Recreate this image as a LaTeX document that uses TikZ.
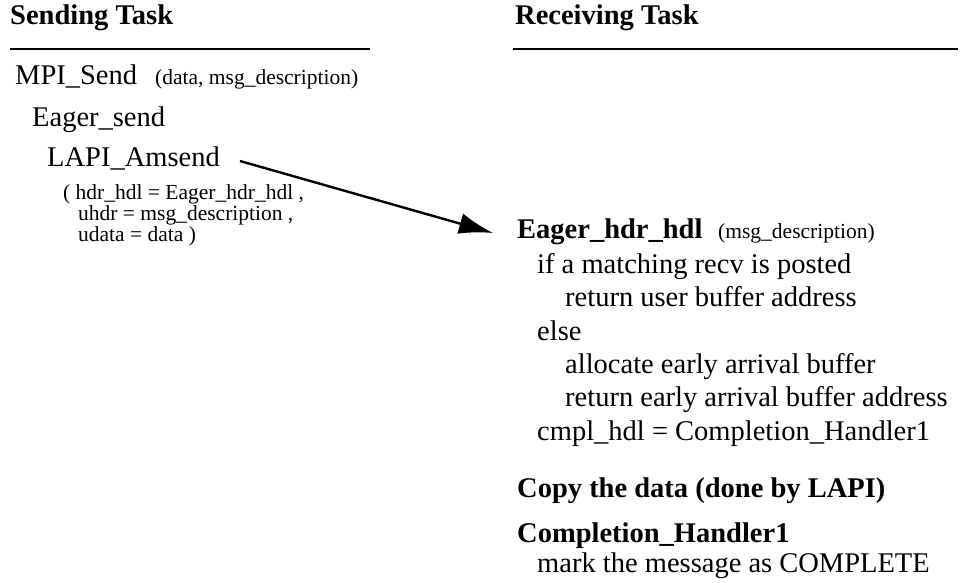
\documentclass[tikz,border=0pt]{standalone}
\usepackage{fontspec}
\setmainfont{Liberation Serif}
\usetikzlibrary{arrows.meta,positioning}
\tikzset{
  txt/.style={anchor=base west, inner sep=0pt, font=\fontsize{28.5}{33}\selectfont},
  hdr/.style={anchor=base west, inner sep=0pt, font=\fontsize{28.5}{33}\selectfont\bfseries},
  arg/.style={anchor=base west, inner sep=0pt, font=\fontsize{21.5}{21}\selectfont},
  rule/.style={line width=2.6pt},
  msgarrow/.style={line width=2.4pt, -{Latex[length=34pt,width=21pt]}}
}

\begin{document}
\begin{tikzpicture}[x=1pt,y=1pt]
	\useasboundingbox (0,0) rectangle (961,-583);

	% column titles
	\node[hdr] (sendtitle) at (10,-25) {Sending Task};
	\node[hdr] (recvtitle) at (515,-25) {Receiving Task};
	\coordinate (sendl) at (10,-49);
	\coordinate (sendr) at (370,-49);
	\coordinate (recvl) at (513,-49);
	\coordinate (recvr) at (958,-49);
	\draw[rule] (sendl) -- (sendr);
	\draw[rule] (recvl) -- (recvr);

	% sending side
	\node[txt] (mpisend) at (15,-85) {MPI\_Send};
	\node[arg] (mpiargs) at (155,-85) {(data, msg\_description)};
	\node[txt] (eagersend) at (32,-127) {Eager\_send};
	\node[txt] (lapi) at (47,-167) {LAPI\_Amsend};
	\node[arg] (lapiarga) at (63,-199) {( hdr\_hdl = Eager\_hdr\_hdl ,};
	\node[arg] (lapiargb) at (78,-220) {uhdr = msg\_description ,};
	\node[arg] (lapiargc) at (78,-241) {udata = data )};

	% receiving side
	\node[hdr] (eagerhdl) at (517,-238) {Eager\_hdr\_hdl};
	\node[arg] (eagerargs) at (718,-238) {(msg\_description)};
	\node[txt] (ifrecv) at (537,-273) {if a matching recv is posted};
	\node[txt] (retuser) at (565,-306) {return user buffer address};
	\node[txt] (elsebr) at (537,-340) {else};
	\node[txt] (alloc) at (565,-373) {allocate early arrival buffer};
	\node[txt] (retearly) at (565,-406) {return early arrival buffer address};
	\node[txt] (cmplhdl) at (537,-440) {cmpl\_hdl = Completion\_Handler1};
	\node[hdr] (copydata) at (517,-497) {Copy the data (done by LAPI)};
	\node[hdr] (cmplone) at (517,-542) {Completion\_Handler1};
	\node[txt] (markdone) at (537,-572) {mark the message as COMPLETE};

	\draw[msgarrow] ([shift={(20,6)}]lapi.base east) -- ([shift={(-24,5)}]eagerhdl.base west);
\end{tikzpicture}
\end{document}
